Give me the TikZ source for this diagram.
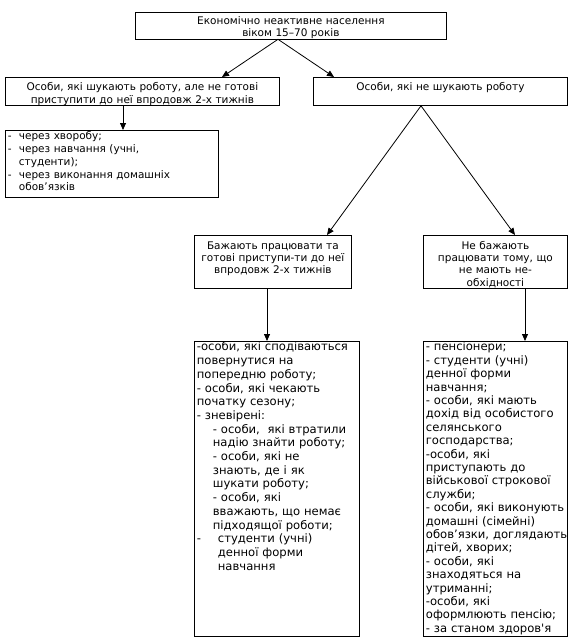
\documentclass[tikz,border=0pt]{standalone}
\usepackage{fontspec}
\newfontfamily\vf{DejaVu Sans}[Ligatures=TeXOff]
\usetikzlibrary{arrows.meta}
\begin{document}
\begin{tikzpicture}[x=1pt,y=-1pt,
  bx/.style={draw, line width=0.8pt, anchor=north west, inner xsep=2.5pt, inner ysep=0pt},
  arr/.style={line width=0.8pt, -{Triangle[length=7pt,width=6pt]}},
  fs/.style={font=\fontsize{10.5}{#1}\selectfont\vf},
  fl/.style={font=\fontsize{11.6}{#1}\selectfont\vf}]
\useasboundingbox (0,0) rectangle (577,640);

\node[bx, fs=12, text width=306pt, align=center, text height=12.5pt, text depth=14pt] (top) at (135,12)
  {Економічно неактивне населення\\віком 15–70 років};

\node[bx, fs=12.7, text width=269pt, align=center, text height=13pt, text depth=15pt] (A) at (5,77)
  {Особи, які шукають роботу, але не готові\\приступити до неї впродовж 2-х тижнів};

\node[bx, fs=12.7, text width=249pt, align=center, text height=13pt, text depth=15pt] (B) at (313,77)
  {Особи, які не шукають роботу};

\node[bx, fs=12.7, text width=208pt, align=left, text height=9.5pt, text depth=57.5pt] (L) at (5,130)
  {\makebox[11pt][l]{-}через хворобу;\\
   \makebox[11pt][l]{-}через навчання (учні,\\
   \hspace*{11pt}студенти);\\
   \makebox[11pt][l]{-}через виконання домашніх\\
   \hspace*{11pt}обов’язків};

\node[bx, fs=12.2, text width=152pt, align=center, text height=14pt, text depth=39pt] (C) at (194,235)
  {Бажають працювати та\\готові приступи-ти до неї\\впродовж 2-х тижнів};

\node[bx, fs=12.2, text width=139pt, align=center, text height=14pt, text depth=39pt] (D) at (423,235)
  {Не бажають\\працювати тому, що\\не мають не-\\обхідності};

\node[bx, fl=13.7, text width=160pt, align=left, text height=9.5pt, text depth=285.5pt] (E) at (194,341)
  {\begin{tabular}[t]{@{}l@{}}
   -особи, які сподіваються\\
   повернутися на\\
   попередню роботу;\\
   - особи, які чекають\\
   початку сезону;\\
   - зневірені:\\
   \hspace*{16pt}- особи,\ \ які втратили\\
   \hspace*{16pt}надію знайти роботу;\\
   \hspace*{16pt}- особи, які не\\
   \hspace*{16pt}знають, де і як\\
   \hspace*{16pt}шукати роботу;\\
   \hspace*{16pt}- особи, які\\
   \hspace*{16pt}вважають, що немає\\
   \hspace*{16pt}підходящої роботи;\\
   \makebox[21pt][l]{-}студенти (учні)\\
   \hspace*{21pt}денної форми\\
   \hspace*{21pt}навчання
   \end{tabular}};

\node[bx, fl=13.4, text width=139pt, align=left, text height=9.5pt, text depth=285.5pt] (F) at (423,341)
  {\begin{tabular}[t]{@{}l@{}}
   - пенсіонери;\\
   - студенти (учні)\\
   денної форми\\
   навчання;\\
   - особи, які мають\\
   дохід від особистого\\
   селянського\\
   господарства;\\
   -особи, які\\
   приступають до\\
   військової строкової\\
   служби;\\
   - особи, які виконують\\
   домашні (сімейні)\\
   обов’язки, доглядають\\
   дітей, хворих;\\
   - особи, які\\
   знаходяться на\\
   утриманні;\\
   -особи, які\\
   оформлюють пенсію;\\
   - за станом здоров'я
   \end{tabular}};

\coordinate (s1) at (278,0);
\coordinate (eA) at (222,0);
\coordinate (eB) at (334,0);
\coordinate (sL) at (123,0);
\coordinate (s2) at (421,0);
\coordinate (eC) at (327,0);
\coordinate (eD) at (515,0);
\coordinate (sE) at (267,0);
\coordinate (sF) at (525,0);

\draw[arr] (s1 |- top.south) -- (eA |- A.north);
\draw[arr] (s1 |- top.south) -- (eB |- B.north);
\draw[arr] (sL |- A.south) -- (sL |- L.north);
\draw[arr] (s2 |- B.south) -- (eC |- C.north);
\draw[arr] (s2 |- B.south) -- (eD |- D.north);
\draw[arr] (sE |- C.south) -- (sE |- E.north);
\draw[arr] (sF |- D.south) -- (sF |- F.north);
\end{tikzpicture}
\end{document}
